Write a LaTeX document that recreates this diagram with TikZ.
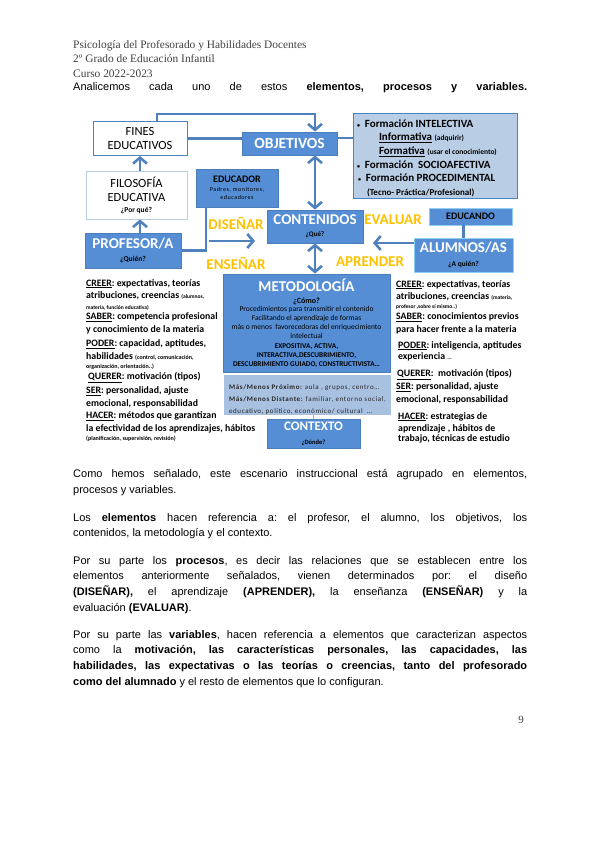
\documentclass[tikz,border=0pt]{standalone}
\usepackage{fontspec}
\setmainfont{Liberation Sans}
\newfontfamily\carlito{Carlito}
\newfontfamily\carlitowide{Carlito}[LetterSpace=9]
\newfontfamily\headserif{Liberation Serif}
\usetikzlibrary{arrows.meta,calc,positioning}
\definecolor{boxblue}{HTML}{558ED5}
\definecolor{edgeblue}{HTML}{4A7EBB}
\definecolor{lineblue}{HTML}{4F81BD}
\definecolor{paleblue}{HTML}{B9CDE5}
\definecolor{greyblue}{HTML}{A9C1E1}
\definecolor{verbgold}{HTML}{FFC000}
\definecolor{rimcyan}{HTML}{8ED0F5}
\newcommand{\fsz}[2]{\fontsize{#1}{#2}\selectfont}
\frenchspacing

\begin{document}
\begin{tikzpicture}[x=1pt,y=-1pt,font=\carlito\bfseries,
  bluebox/.style={fill=boxblue,draw=edgeblue,line width=0.8pt,align=center,inner sep=0pt},
  whitebox/.style={fill=white,draw=lineblue,line width=0.8pt,align=center,inner sep=0pt},
  verb/.style={text=verbgold,inner sep=0pt,font=\carlito\bfseries\fsz{15}{16}},
  vars/.style={anchor=north west,align=left,inner sep=0pt,font=\carlito\bfseries\fsz{9.8}{12.5}},
  flow/.style={lineblue,line width=2.6pt,-{Straight Barb[length=6pt,width=14pt]}},
  dflow/.style={lineblue,line width=2.6pt,{Straight Barb[length=6pt,width=14pt]}-{Straight Barb[length=6pt,width=14pt]}},
  link/.style={lineblue,line width=2.4pt},
  para/.style={anchor=north west,text width=454pt,align=justify,inner sep=0pt,font=\fsz{11}{15.7}}]
\useasboundingbox (0,0) rectangle (600,848);

\node[anchor=north west,align=left,inner sep=0pt,text=black!75,font=\headserif\fsz{11.4}{14.5}] (head) at (73,40) {Psicología del Profesorado y Habilidades Docentes\\2º Grado de Educación Infantil\\Curso 2022-2023};
\node[anchor=base west,inner sep=0pt,font=\fsz{11}{13}] (intro) at (73,91) {\makebox[454pt][s]{Analicemos cada uno de estos \textbf{elementos, procesos y variables.}}};

% boxes
\node[whitebox,minimum width=94pt,minimum height=34pt,font=\carlito\fsz{12.5}{13.5}] (fines) at (140,138.5) {FINES\\EDUCATIVOS};
\node[whitebox,draw=paleblue,minimum width=101pt,minimum height=48pt,font=\carlito\fsz{12.5}{14}] (filo) at (136.5,195) {FILOSOFÍA\\EDUCATIVA\\[-3pt]{\bfseries\fsz{7.5}{9}¿Por qué?}};
\node[bluebox,minimum width=96pt,minimum height=35pt,font=\carlito\bfseries\fsz{15}{13.7}] (prof) at (133,250.5) {\textcolor{white}{PROFESOR/A}\\{\fsz{7.5}{9}¿Quién?}};
\node[bluebox,minimum width=82pt,minimum height=38pt,font=\carlito\bfseries\fsz{10}{10}] (educador) at (237,188) {EDUCADOR\\[-1pt]{\carlitowide\mdseries\fsz{6}{7}Padres, monitores,}\\[-2pt]{\carlitowide\mdseries\fsz{6}{7}educadores}};
\node[bluebox,minimum width=95pt,minimum height=23pt,text=white,font=\carlito\bfseries\fsz{15.5}{16}] (obj) at (289.5,143.5) {OBJETIVOS};
\node[fill=paleblue,draw=lineblue,line width=1pt,minimum width=164pt,minimum height=84pt,text width=156pt,align=flush left,inner xsep=4pt,inner ysep=0pt,font=\carlito\bfseries\fsz{11}{13.6}] (form) at (435,156) {\rule{0pt}{12pt}{\fsz{6}{6}\textbullet}\ \ Formación INTELECTIVA\\
\hspace*{22pt}\underline{Informativa} {\fsz{7.5}{8}(adquirir)}\\
\hspace*{22pt}\underline{Formativa} {\fsz{7.5}{8}(usar el conocimiento)}\\
{\fsz{6}{6}\textbullet}\ \ Formación\ \ SOCIOAFECTIVA\\
\hspace*{1pt}{\fsz{6}{6}\textbullet}\ \ Formación PROCEDIMENTAL\\
\hspace*{10pt}{\fsz{9}{10}(Tecno- Práctica/Profesional)}};
\node[bluebox,minimum width=96pt,minimum height=33pt,font=\carlito\bfseries\fsz{15}{12}] (cont) at (315,226.5) {\textcolor{white}{CONTENIDOS}\\{\fsz{7}{8}¿Qué?}};
\node[bluebox,draw=rimcyan,minimum width=83pt,minimum height=17pt,font=\carlito\bfseries\fsz{10}{11}] (educando) at (470.5,216.5) {EDUCANDO};
\node[bluebox,draw=rimcyan,minimum width=99pt,minimum height=34pt,font=\carlito\bfseries\fsz{15}{13.5}] (alum) at (463.5,255) {\textcolor{white}{ALUMNOS/AS}\\{\fsz{7.5}{9}¿A quién?}};
\node[bluebox,minimum width=167pt,minimum height=98pt,font=\carlito\fsz{7.5}{9}] (metod) at (306.5,323) {{\bfseries\color{white}\fsz{15}{16}METODOLOGÍA}\\[3pt]{\bfseries\fsz{8}{9}¿Cómo?}\\[-1pt]Procedimientos para transmitir el contenido\\Facilitando el aprendizaje de formas\\más o menos\ \ favorecedoras del enriquecimiento\\intelectual\\[1pt]{\bfseries\fsz{7.3}{9}EXPOSITIVA, ACTIVA,}\\{\bfseries\fsz{7.3}{9}INTERACTIVA,DESCUBRIMIENTO,}\\{\bfseries\fsz{7.3}{9}DESCUBRIMIENTO GUIADO, CONSTRUCTIVISTA…}};
\node[fill=greyblue,minimum width=167pt,minimum height=36pt,align=left,inner sep=0pt,text=black!85,font=\carlitowide\fsz{7}{12.3}] (ctxdesc) at (307.5,395) {\rule{0pt}{14pt}\textbf{Más/Menos Próximo:} aula , grupos, centro…\\\textbf{Más/Menos Distante:} familiar, entorno social,\\educativo, político, económico/ cultural\ \ …};
\node[bluebox,minimum width=93pt,minimum height=29pt,font=\carlito\bfseries\fsz{13}{14}] (ctx) at (313.5,433.5) {\textcolor{white}{CONTEXTO}\\{\fsz{6.5}{8}¿Dónde?}};

% processes
\node[verb] (disenar) at (236,223) {DISEÑAR};
\node[verb] (ensenar) at (236,263) {ENSEÑAR};
\node[verb] (evaluar) at (393,220) {EVALUAR};
\node[verb] (aprender) at (370,262) {APRENDER};

% connectors
\draw[flow] ([xshift=17pt]fines.north) -- ++(0,-7) -| (obj.north -| cont.north);
\draw[link] (fines.east) -- (fines.east -| obj.west);
\draw[link] ([yshift=5.5pt]obj.east) -- ([yshift=5.5pt]obj.east -| form.west);
\draw[dflow] (obj.south -| cont.north) -- (cont.north);
\draw[dflow] (cont.south) -- (cont.south |- metod.north);
\draw[flow] (prof.north -| fines.south) -- (filo.south -| fines.south);
\draw[flow] (filo.north -| fines.south) -- (fines.south);
\draw[link] ([xshift=-31pt]educador.south) |- (prof.east);
\coordinate (teachfrom) at (209,241);
\coordinate (teachto) at (255,241);
\draw[flow] (teachfrom) -- (teachto);
\coordinate (learnto) at (373,243);
\draw[flow] (alum.west |- learnto) -- (learnto);
\draw[link] (educando.south -| alum.north) -- (alum.north);
\draw[lineblue!60,line width=1pt] (ctxdesc.south -| ctx.north) -- (ctx.north);

% variables
\node[vars] (profvars) at (86,279) {\underline{CREER}: expectativas, teorías\\
atribuciones, creencias {\fsz{5.5}{6}(alumnos,}\\[-2pt]
{\fsz{5.5}{6}materia, función educativa)}\\[-2pt]
\underline{SABER}: competencia profesional\\
y conocimiento de la materia\\[2pt]
\underline{PODER}: capacidad, aptitudes,\\
habilidades {\fsz{6}{7}(control, comunicación,}\\[-3pt]
{\fsz{6}{7}organización, orientación..)}\\[-1.5pt]
\hspace*{2pt}\underline{QUERER}: motivación (tipos)\\[1.5pt]
\underline{SER}: personalidad, ajuste\\
emocional, responsabilidad\\
\underline{HACER}: métodos que garantizan\\
la efectividad de los aprendizajes, hábitos\\[-3pt]
{\fsz{6}{7}(planificación, supervisión, revisión)}};
\node[vars] (alumvars) at (396,280) {\underline{CREER}: expectativas, teorías\\
atribuciones, creencias {\fsz{5.5}{6}(materia,}\\[-3.5pt]
{\fsz{5.5}{6}profesor ,sobre sí mismo..)}\\[-1.5pt]
\underline{SABER}: conocimientos previos\\
para hacer frente a la materia\\[3.5pt]
\hspace*{2pt}\underline{PODER}: inteligencia, aptitudes\\[-1.5pt]
\hspace*{2pt}experiencia {\fsz{5.5}{6}...}\\[4.5pt]
\hspace*{1pt}\underline{QUERER}:\ \ motivación (tipos)\\[1pt]
\underline{SER}: personalidad, ajuste\\
emocional, responsabilidad\\[4.5pt]
\hspace*{2pt}\underline{HACER}: estrategias de\\
\hspace*{2pt}aprendizaje , hábitos de\\[-2.5pt]
\hspace*{2pt}trabajo, técnicas de estudio};

% text
\node[para] (p1) at (73,469) {Como hemos señalado, este escenario instruccional está agrupado en elementos,\linebreak procesos y variables.};
\node[para] (p2) at (73,513) {Los \textbf{elementos} hacen referencia a: el profesor, el alumno, los objetivos, los\linebreak contenidos, la metodología y el contexto.};
\node[para] (p3) at (73,556) {Por su parte los \textbf{procesos}, es decir las relaciones que se establecen entre los\linebreak elementos anteriormente señalados, vienen determinados por: el diseño\linebreak \textbf{(DISEÑAR),} el aprendizaje \textbf{(APRENDER),} la enseñanza \textbf{(ENSEÑAR)} y la\linebreak evaluación \textbf{(EVALUAR)}.};
\node[para] (p4) at (73,630) {Por su parte las \textbf{variables}, hacen referencia a elementos que caracterizan aspectos\linebreak como la \textbf{motivación, las características personales, las capacidades, las}\linebreak \textbf{habilidades, las expectativas o las teorías o creencias, tanto del profesorado}\linebreak \textbf{como del alumnado} y el resto de elementos que lo configuran.};
\node[text=black!75,font=\headserif\fsz{11}{13}] (pagenum) at (521,720) {9};
\end{tikzpicture}
\end{document}
